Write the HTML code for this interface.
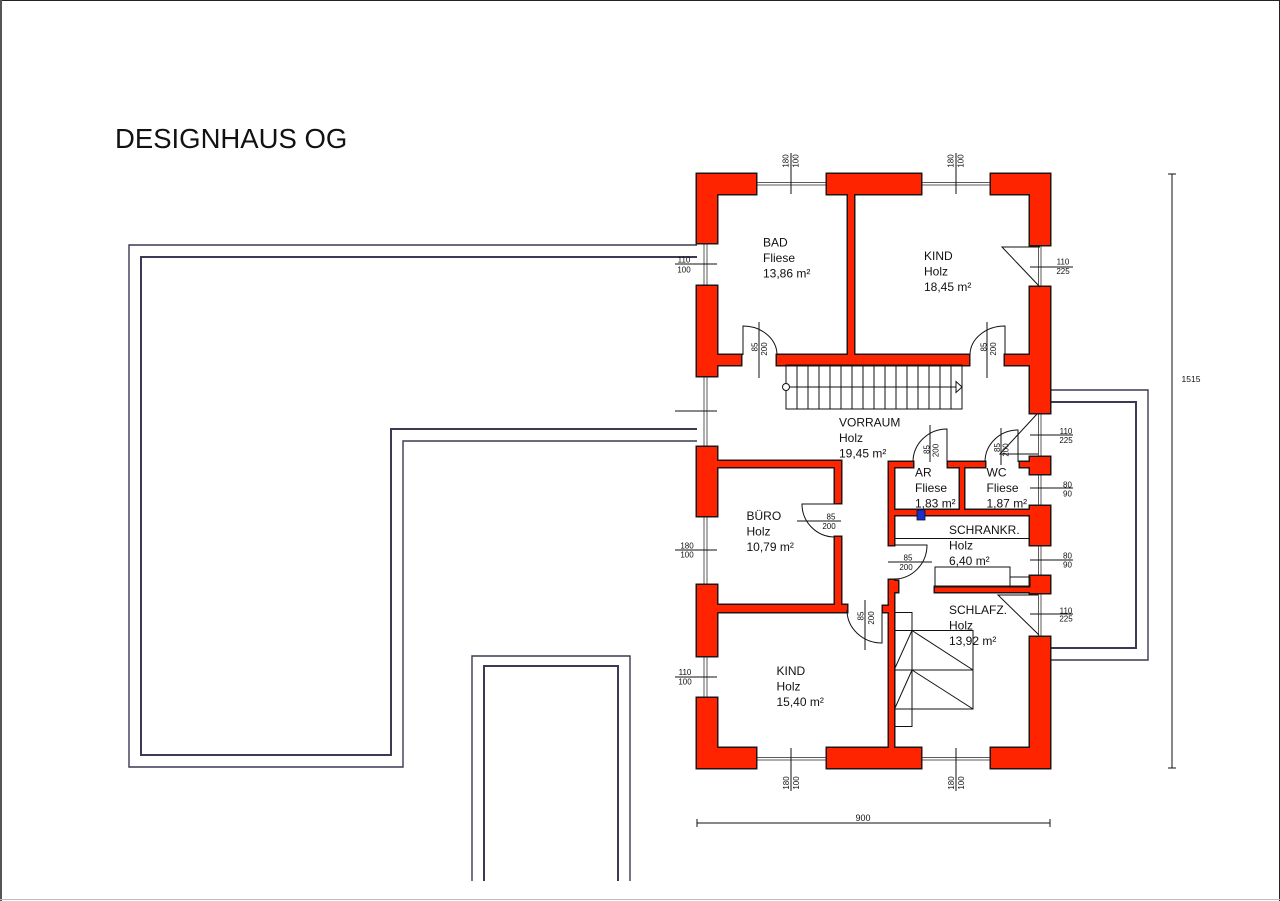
<!DOCTYPE html>
<html><head><meta charset="utf-8"><style>
html,body{margin:0;padding:0;background:#fff;}
svg{display:block;}
text{font-family:"Liberation Sans",Arial,sans-serif;fill:#111;}
.r{font-size:12px;}
.d{font-size:8px;}
</style></head><body>
<svg width="1280" height="901" viewBox="0 0 1280 901" xmlns="http://www.w3.org/2000/svg">
<rect x="0" y="0" width="1280" height="901" fill="#fff"/>
<!-- page border -->
<line x1="0" y1="0.5" x2="1280" y2="0.5" stroke="#222" stroke-width="1"/>
<line x1="1" y1="0" x2="1" y2="901" stroke="#555" stroke-width="2"/>
<line x1="1279.5" y1="0" x2="1279.5" y2="901" stroke="#222" stroke-width="1"/>
<line x1="0" y1="899.5" x2="1280" y2="899.5" stroke="#bbb" stroke-width="1"/>

<text x="115" y="148" style="font-size:27.5px">DESIGNHAUS OG</text>

<!-- terraces -->
<g fill="none" stroke="#3a3a52">
<polyline points="697,245 129,245 129,767 403,767 403,441 697,441" stroke-width="1.4"/>
<polyline points="697,257 141,257 141,755 391,755 391,429 697,429" stroke-width="2"/>
<polyline points="472,881 472,656 630,656 630,881" stroke-width="1.4"/>
<polyline points="484,881 484,666 618,666 618,881" stroke-width="2"/>
<polyline points="1050,390 1148,390 1148,660 1050,660" stroke-width="1.4"/>
<polyline points="1050,402 1136,402 1136,648 1050,648" stroke-width="2"/>
</g>

<!-- window rails -->
<g fill="#fff" stroke="#333" stroke-width="0.8">
<rect x="704" y="243" width="3" height="43"/>
<rect x="704" y="376" width="3" height="71"/>
<rect x="704" y="516" width="3" height="69"/>
<rect x="704" y="656" width="3" height="42"/>
<rect x="1038.5" y="245" width="2.5" height="42"/>
<rect x="1038.5" y="413" width="2.5" height="44"/>
<rect x="1038.5" y="474" width="2.5" height="32"/>
<rect x="1038.5" y="545" width="2.5" height="31"/>
<rect x="1038.5" y="593" width="2.5" height="44"/>
<rect x="756" y="182.5" width="71" height="2.5"/>
<rect x="921" y="182.5" width="70" height="2.5"/>
<rect x="756" y="757.5" width="71" height="2.5"/>
<rect x="921" y="757.5" width="70" height="2.5"/>
</g>

<!-- walls -->
<defs>
<g id="walls">
<rect x="697" y="174" width="59" height="20"/>
<rect x="697" y="174" width="20" height="69"/>
<rect x="827" y="174" width="94" height="20"/>
<rect x="848" y="194" width="6" height="161"/>
<rect x="777" y="355" width="192" height="10"/>
<rect x="991" y="174" width="59" height="20"/>
<rect x="1030" y="174" width="20" height="71"/>
<rect x="697" y="286" width="20" height="90"/>
<rect x="717" y="355" width="24" height="10"/>
<rect x="1030" y="287" width="20" height="126"/>
<rect x="1005" y="355" width="25" height="10"/>
<rect x="697" y="447" width="20" height="69"/>
<rect x="717" y="461" width="124" height="6"/>
<rect x="835" y="461" width="6" height="42"/>
<rect x="835" y="537" width="6" height="75"/>
<rect x="717" y="605" width="130" height="7"/>
<rect x="697" y="585" width="20" height="71"/>
<rect x="697" y="698" width="20" height="70"/>
<rect x="697" y="748" width="59" height="20"/>
<rect x="827" y="748" width="94" height="20"/>
<rect x="889" y="580" width="5" height="168"/>
<rect x="889" y="581" width="9" height="11"/>
<rect x="883" y="606" width="6" height="6"/>
<rect x="991" y="748" width="59" height="20"/>
<rect x="1030" y="637" width="20" height="131"/>
<rect x="889" y="462" width="5" height="83"/>
<rect x="889" y="462" width="24" height="5"/>
<rect x="948" y="462" width="37" height="5"/>
<rect x="960" y="462" width="4" height="53"/>
<rect x="889" y="510" width="141" height="5"/>
<rect x="1030" y="457" width="20" height="17"/>
<rect x="1020" y="462" width="10" height="5"/>
<rect x="1030" y="506" width="20" height="39"/>
<rect x="935" y="587" width="95" height="5"/>
<rect x="1030" y="576" width="20" height="17"/>
</g>
</defs>
<use href="#walls" fill="#ff2400" stroke="#231414" stroke-width="3"/>
<use href="#walls" fill="#ff2400" stroke="none"/>

<!-- blue square -->
<rect x="917" y="510" width="8" height="10" fill="#1a2fd0" stroke="#111" stroke-width="0.8"/>

<!-- fine lines -->
<g fill="none" stroke="#111" stroke-width="1">
<!-- doors -->
<path d="M743,355 L743,326 A34,29 0 0,1 777,355"/>
<path d="M1005,355 L1005,326 A35,29 0 0,0 970,355"/>
<path d="M947,462 L947,429 A34,33 0 0,0 913,462"/>
<path d="M1018,462 L1018,430 A33,32 0 0,0 985,462"/>
<path d="M894,545 L927,545 A33,34 0 0,1 894,579"/>
<path d="M835,504 L802,504 A33,33 0 0,0 835,537"/>
<path d="M882,610 L882,643 A35,33 0 0,1 847,610"/>
<!-- window swings -->
<polyline points="1040,247 1002,247 1040,287"/>
<polyline points="1037,414 1000,454 1038,454"/>
<polyline points="1038,595 998,595 1039,635"/>
<!-- schrank line & cabinet -->
<line x1="894" y1="538.5" x2="1030" y2="538.5"/>
<rect x="935" y="567" width="75" height="20"/>
<rect x="1010" y="577" width="20" height="10"/>
<!-- top stair -->
<rect x="786" y="365" width="176" height="44"/>
<path d="M797,365V409M808,365V409M819,365V409M830,365V409M841,365V409M852,365V409M863,365V409M874,365V409M885,365V409M896,365V409M907,365V409M918,365V409M929,365V409M940,365V409M951,365V409"/>
<line x1="786" y1="387" x2="962" y2="387"/>
<circle cx="786" cy="387" r="3.5" fill="#fff"/>
<polygon points="956,381.5 962,387 956,392.5" fill="#fff"/>
<!-- lower stair -->
<rect x="895" y="612.5" width="17" height="18"/>
<rect x="895" y="630.5" width="78" height="78.5"/>
<line x1="912" y1="630.5" x2="912" y2="709"/>
<line x1="895" y1="670" x2="973" y2="670"/>
<line x1="912" y1="630.5" x2="973" y2="670"/>
<line x1="912" y1="670" x2="973" y2="709"/>
<line x1="912" y1="630.5" x2="895" y2="668"/>
<line x1="912" y1="670" x2="895" y2="708"/>
<rect x="895" y="709" width="17" height="17.5"/>
<!-- dimension lines -->
<line x1="791" y1="153" x2="791" y2="194"/>
<line x1="956" y1="153" x2="956" y2="194"/>
<line x1="791" y1="748" x2="791" y2="791"/>
<line x1="956" y1="748" x2="956" y2="791"/>
<line x1="675" y1="264" x2="717" y2="264"/>
<line x1="675" y1="411" x2="717" y2="411"/>
<line x1="675" y1="550" x2="717" y2="550"/>
<line x1="675" y1="677" x2="717" y2="677"/>
<line x1="1030" y1="267" x2="1073" y2="267"/>
<line x1="1030" y1="435" x2="1073" y2="435"/>
<line x1="1030" y1="488" x2="1073" y2="488"/>
<line x1="1030" y1="560" x2="1073" y2="560"/>
<line x1="1030" y1="614" x2="1073" y2="614"/>
<line x1="759" y1="322" x2="759" y2="378"/>
<line x1="987" y1="322" x2="987" y2="378"/>
<line x1="930" y1="425" x2="930" y2="462"/>
<line x1="1001" y1="428" x2="1001" y2="465"/>
<line x1="797" y1="521" x2="841" y2="521"/>
<line x1="888" y1="562" x2="932" y2="562"/>
<line x1="865" y1="600" x2="865" y2="650"/>
<!-- overall dims -->
<line x1="1172" y1="174" x2="1172" y2="768"/>
<line x1="1168" y1="174" x2="1176" y2="174"/>
<line x1="1168" y1="768" x2="1176" y2="768"/>
<line x1="697" y1="823" x2="1050" y2="823"/>
<line x1="697" y1="819" x2="697" y2="827"/>
<line x1="1050" y1="819" x2="1050" y2="827"/>
</g>

<!-- room labels -->
<g class="r">
<text x="763" y="246.5">BAD</text><text x="763" y="262">Fliese</text><text x="763" y="277.5">13,86 m²</text>
<text x="924" y="260">KIND</text><text x="924" y="275.5">Holz</text><text x="924" y="291">18,45 m²</text>
<text x="839" y="426.5">VORRAUM</text><text x="839" y="442">Holz</text><text x="839" y="457.5">19,45 m²</text>
<text x="915" y="476.5">AR</text><text x="915" y="492">Fliese</text><text x="915" y="507.5">1,83 m²</text>
<text x="986.5" y="476.5">WC</text><text x="986.5" y="492">Fliese</text><text x="986.5" y="507.5">1,87 m²</text>
<text x="746.5" y="520">BÜRO</text><text x="746.5" y="535.5">Holz</text><text x="746.5" y="551">10,79 m²</text>
<text x="949" y="534">SCHRANKR.</text><text x="949" y="549.5">Holz</text><text x="949" y="565">6,40 m²</text>
<text x="949" y="614">SCHLAFZ.</text><text x="949" y="629.5">Holz</text><text x="949" y="645">13,92 m²</text>
<text x="776.5" y="675">KIND</text><text x="776.5" y="690.5">Holz</text><text x="776.5" y="706">15,40 m²</text>
</g>

<!-- dimension texts -->
<g class="d" text-anchor="middle">
<text transform="translate(788.5,161) rotate(-90)">180</text>
<text transform="translate(798.5,161) rotate(-90)">100</text>
<text transform="translate(953.5,161) rotate(-90)">180</text>
<text transform="translate(963.5,161) rotate(-90)">100</text>
<text transform="translate(789,783) rotate(-90)">180</text>
<text transform="translate(799,783) rotate(-90)">100</text>
<text transform="translate(954,783) rotate(-90)">180</text>
<text transform="translate(964,783) rotate(-90)">100</text>
<text transform="translate(757.5,347) rotate(-90)">85</text>
<text transform="translate(767,349) rotate(-90)">200</text>
<text transform="translate(986.5,347) rotate(-90)">85</text>
<text transform="translate(996,349) rotate(-90)">200</text>
<text transform="translate(929.3,449.5) rotate(-90)">85</text>
<text transform="translate(938.3,450.5) rotate(-90)">200</text>
<text transform="translate(1000,447.5) rotate(-90)">85</text>
<text transform="translate(1008.5,450) rotate(-90)">200</text>
<text transform="translate(863.3,616) rotate(-90)">85</text>
<text transform="translate(874,618) rotate(-90)">200</text>
<text x="684" y="262.5">110</text><text x="684" y="272.5">100</text>
<text x="687" y="548.3">180</text><text x="687" y="557.5">100</text>
<text x="685" y="675">110</text><text x="685" y="684.5">100</text>
<text x="1063" y="264.3">110</text><text x="1063" y="274">225</text>
<text x="1066" y="434">110</text><text x="1066" y="443">225</text>
<text x="1067.5" y="487.3">80</text><text x="1067.5" y="496.7">90</text>
<text x="1067.5" y="558.3">80</text><text x="1067.5" y="567.3">90</text>
<text x="1066" y="613.3">110</text><text x="1066" y="621.7">225</text>
<text x="831" y="519.5">85</text><text x="829" y="529">200</text>
<text x="908" y="560.5">85</text><text x="906" y="570">200</text>
<text x="1191" y="382" style="font-size:8.5px">1515</text>
<text x="863" y="821" style="font-size:9px">900</text>
</g>
</svg>
</body></html>
